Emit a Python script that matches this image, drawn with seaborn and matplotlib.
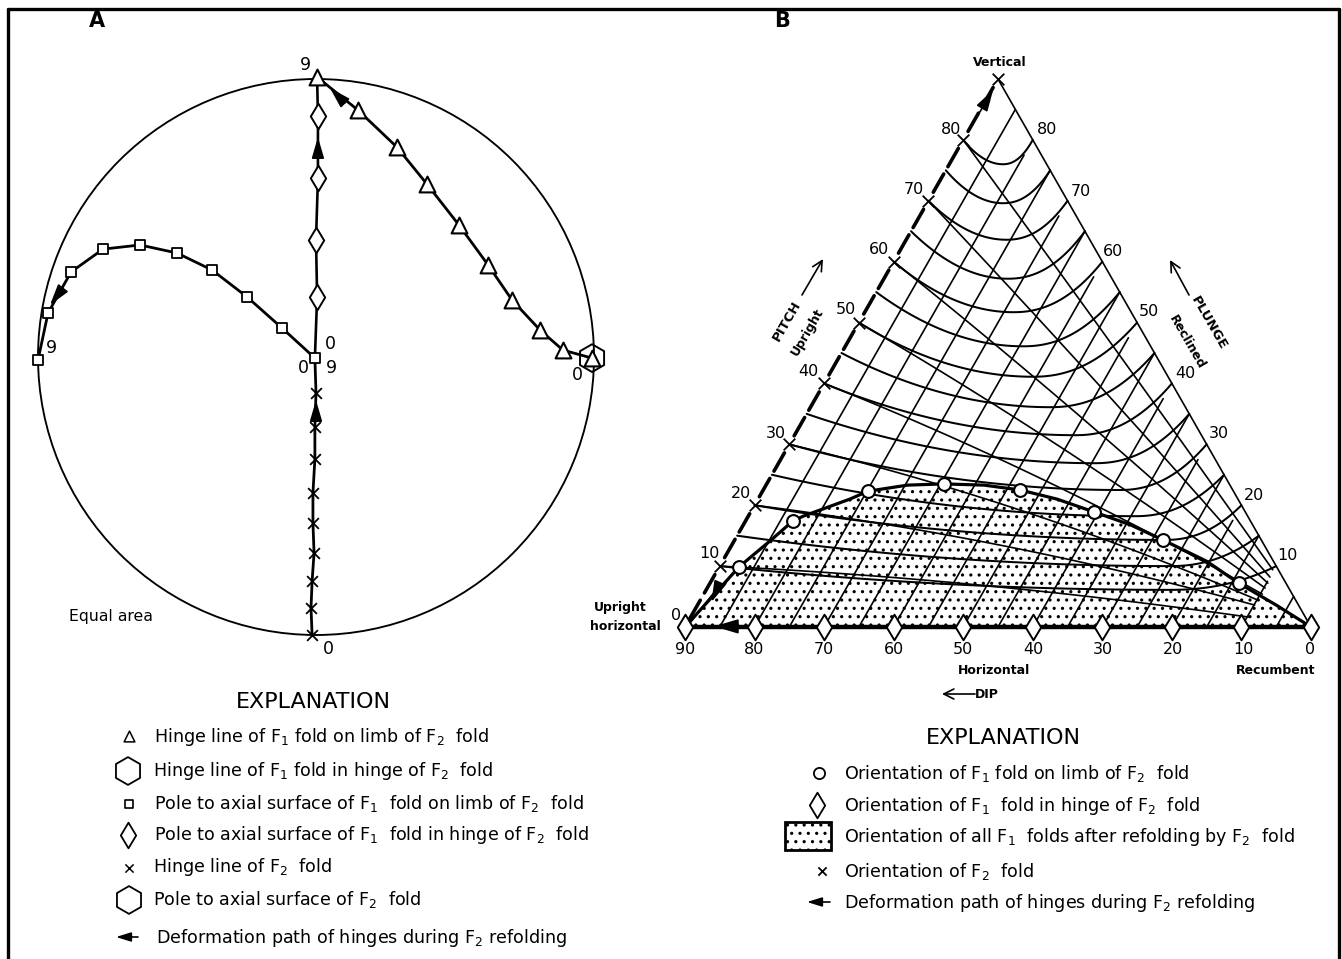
import numpy as np
import pandas as pd
import matplotlib
matplotlib.use("Agg")
import matplotlib.pyplot as plt
from matplotlib.patches import Circle, Rectangle
import seaborn as sns

sns.set_theme(style="white")
plt.rcParams["font.family"] = ["DejaVu Sans"]
plt.rcParams["mathtext.default"] = "regular"
plt.rcParams["hatch.linewidth"] = 1.1

# ---------- Panel A: equal-area net (unit circle coordinates) ----------
tri_x = [0.004, 0.151, 0.291, 0.399, 0.514, 0.619, 0.705, 0.806, 0.888, 0.993]
tri_y = [1.007, 0.888, 0.755, 0.622, 0.475, 0.331, 0.205, 0.097, 0.025, -0.004]
sq_x = [-1.0, -0.964, -0.881, -0.766, -0.633, -0.5, -0.374, -0.248, -0.122, -0.004]
sq_y = [-0.011, 0.158, 0.306, 0.388, 0.403, 0.374, 0.313, 0.216, 0.104, -0.004]
dia_x = [0.007, 0.007, 0.0, 0.004]
dia_y = [0.867, 0.644, 0.421, 0.216]
xm_x = [0.0, -0.004, -0.004, -0.011, -0.011, -0.007, -0.014, -0.018, -0.014]
xm_y = [-0.129, -0.252, -0.367, -0.489, -0.597, -0.705, -0.806, -0.903, -1.0]
vert_x = [0.004, 0.007, 0.007, 0.0, 0.004, -0.004]
vert_y = [1.0, 0.867, 0.644, 0.421, 0.216, -0.004]
hinge_x = [0.993]
hinge_y = [-0.004]

# ---------- Panel B: ternary fold diagram (dip, level) ----------
dip_ticks = [90, 80, 70, 60, 50, 40, 30, 20, 10, 0]
pitch_ticks = [10, 20, 30, 40, 50, 60, 70, 80, 90]
plunge_ticks = [10, 20, 30, 40, 50, 60, 70, 80]
dip_lines = [85, 80, 75, 70, 65, 60, 55, 50, 45, 40, 35, 30, 25, 20, 15, 10, 5]
u_levels = [80, 75, 70, 65, 60, 55, 50, 45, 40, 35, 30, 25, 20, 15, 10]
u_low_dip = [44.3, 44.3, 43.8, 43.6, 42.8, 41.4, 40.0, 37.5, 33.9, 31.1, 27.5, 25.3, 21.0, 20.3, 20.3]
u_low_lev = [76.0, 69.6, 63.6, 57.2, 51.7, 46.1, 41.1, 36.1, 31.5, 26.9, 22.5, 18.2, 14.3, 10.0, 6.1]
fan_levels = [80, 70, 60, 50, 40, 30, 20, 10]
fan_end_dip = [5.5, 5.9, 6.2, 6.6, 7.0, 7.6, 8.1, 8.8]
fan_end_lev = [9.4, 8.2, 7.2, 6.4, 5.4, 4.4, 3.6, 1.6]
fan_bow = [0.3, 0.6, 0.9, 1.2, 1.5, 1.8, 1.5, 1.0]
limb_dip = [82.2, 74.5, 63.7, 52.8, 41.8, 31.2, 21.3, 10.4]
limb_lev = [9.9, 17.4, 22.3, 23.5, 22.5, 18.9, 14.3, 7.2]
bound_dip = [90, 82.2, 77.6, 74.5, 73, 66.3, 63.7, 58, 52.8, 47, 41.8, 36.5, 31.2, 26, 21.3, 15, 10.4, 5, 0]
bound_lev = [0, 9.9, 14.3, 17.4, 18.2, 21.0, 22.3, 23.3, 23.5, 23.3, 22.5, 21.0, 18.9, 16.8, 14.3, 10.8, 7.2, 3.6, 0]

expl_a = ["Hinge line of F$_{1}$ fold on limb of F$_{2}$  fold",
          "Hinge line of F$_{1}$ fold in hinge of F$_{2}$  fold",
          "Pole to axial surface of F$_{1}$  fold on limb of F$_{2}$  fold",
          "Pole to axial surface of F$_{1}$  fold in hinge of F$_{2}$  fold",
          "Hinge line of F$_{2}$  fold",
          "Pole to axial surface of F$_{2}$  fold",
          "Deformation path of hinges during F$_{2}$ refolding"]
expl_b = ["Orientation of F$_{1}$ fold on limb of F$_{2}$  fold",
          "Orientation of F$_{1}$  fold in hinge of F$_{2}$  fold",
          "Orientation of all F$_{1}$  folds after refolding by F$_{2}$  fold",
          "Orientation of F$_{2}$  fold",
          "Deformation path of hinges during F$_{2}$ refolding"]

W, H = 1342, 959
fig = plt.figure(figsize=(W / 100, H / 100), dpi=100, facecolor="white")


def full_axes(xlim, ylim):
    ax = fig.add_axes([0, 0, 1, 1], facecolor="none")
    ax.set_xlim(*xlim)
    ax.set_ylim(*ylim)
    ax.axis("off")
    return ax


axT = full_axes((0, W), (H, 0))
axB = full_axes((1311 / 6.956, (1311 - W) / 6.956), ((627 - H) / 6.089, 627 / 6.089))
axA = full_axes((-316 / 278, (W - 316) / 278), ((357 - H) / 278, 357 / 278))


def line(ax, x, y, lw=1.3, **kw):
    sns.lineplot(x=x, y=y, ax=ax, sort=False, estimator=None, color="black",
                 linewidth=lw, legend=False, **kw)


def pts(ax, x, y, marker, s, lw=1.4, fc="white", z=5):
    if marker == "x":
        sns.scatterplot(x=x, y=y, ax=ax, marker="x", s=s, color="black",
                        linewidth=lw, legend=False, zorder=z)
    else:
        sns.scatterplot(x=x, y=y, ax=ax, marker=marker, s=s, facecolor=fc,
                        edgecolor="black", linewidth=lw, legend=False, zorder=z)


def arrow(ax, tail, tip, style="-|>,head_length=1.3,head_width=0.38", ms=10, lw=1.2, fill=True):
    ax.annotate("", xy=tip, xytext=tail,
                arrowprops=dict(arrowstyle=style, mutation_scale=ms, lw=lw,
                                color="black", shrinkA=0, shrinkB=0,
                                fc="black" if fill else "none"), zorder=6)


# ---------- Frame ----------
line(axT, [8, 8], [959, 9], lw=2.4)
line(axT, [8, 1339], [9, 9], lw=2.4)
line(axT, [1339, 1339], [9, 959], lw=2.4)

# ---------- Panel A ----------
axA.add_patch(Circle((0, 0), 1.0, fill=False, ec="black", lw=1.35))
line(axA, tri_x, tri_y, lw=2.0)
line(axA, sq_x, sq_y, lw=2.0)
line(axA, vert_x, vert_y, lw=1.9)
line(axA, xm_x, xm_y, lw=2.0)
line(axA, [xm_x[0], vert_x[-1]], [xm_y[0], vert_y[-1]], lw=2.0)
pts(axA, dia_x, dia_y, "d", 170, lw=1.4)
pts(axA, sq_x, sq_y, "s", 45, lw=1.3)
pts(axA, xm_x, xm_y, "x", 60, lw=1.3)
pts(axA, hinge_x, hinge_y, "h", 400, lw=1.4, fc="none", z=4)
pts(axA, tri_x, tri_y, "^", 130, lw=1.5)
arrow(axA, (0.104, 0.914), (0.05, 0.968))
arrow(axA, (0.007, 0.723), (0.007, 0.791))
arrow(axA, (-0.91, 0.248), (-0.957, 0.187))
arrow(axA, (0.0, -0.209), (0.0, -0.155))

# ---------- Panel B ----------
axB.fill(bound_dip, bound_lev, facecolor="none", edgecolor="black", linewidth=0,
         hatch="..", zorder=0)

# ascending dip lines
rows = []
for i, d in enumerate(dip_lines):
    top = d if d % 10 else d - 2.5
    rows += [(f"d{i}", d, 0.0), (f"d{i}", d - top / 2, top)]
# slightly bowed fan lines toward the recumbent corner
for i, L in enumerate(fan_levels):
    d0, d1 = 90 - L / 2, fan_end_dip[i]
    for u in np.linspace(0, 1, 25):
        rows.append((f"f{i}", d0 + (d1 - d0) * u,
                     L + (fan_end_lev[i] - L) * u + 4 * u * (1 - u) * fan_bow[i]))
thin = pd.DataFrame(rows, columns=["curve", "dip", "level"])
sns.lineplot(data=thin, x="dip", y="level", units="curve", estimator=None, sort=False,
             color="black", linewidth=1.2, ax=axB, legend=False)

# U-shaped contours from pitch edge to plunge edge
rows = []
for i, L in enumerate(u_levels):
    left, right = 90 - L / 2, L / 2
    for t in np.linspace(1, 0, 40):
        rows.append((i, u_low_dip[i] + (left - u_low_dip[i]) * t,
                     u_low_lev[i] + (L - u_low_lev[i]) * t ** 2.0))
    for t in np.linspace(0, 1, 40)[1:]:
        rows.append((i, u_low_dip[i] + (right - u_low_dip[i]) * t,
                     u_low_lev[i] + (L - u_low_lev[i]) * t ** 2.2))
curves = pd.DataFrame(rows, columns=["curve", "dip", "level"])
sns.lineplot(data=curves, x="dip", y="level", units="curve", estimator=None, sort=False,
             color="black", linewidth=1.45, ax=axB, legend=False)

line(axB, bound_dip, bound_lev, lw=2.3)
line(axB, [45, 0], [90, 0], lw=1.2)          # plunge edge
line(axB, [90, 0], [0, 0], lw=3.2)           # dip edge
line(axB, [85.3, 89.2], [6.4, 0.8], lw=1.2)
# dashed pitch edge, broken around the x marks
for d in range(0, 90, 10):
    lo = d + 1.4 if d else 0.0
    line(axB, [90 - lo / 2, 90 - (d + 4.4) / 2], [lo, d + 4.4], lw=2.6)
    line(axB, [90 - (d + 5.6) / 2, 90 - (d + 8.6) / 2], [d + 5.6, d + 8.6], lw=2.6)
pts(axB, limb_dip, limb_lev, "o", 85, lw=1.5)
pts(axB, dip_ticks, [0] * len(dip_ticks), "d", 170, lw=1.4)
pts(axB, [90 - L / 2 for L in pitch_ticks], pitch_ticks, "x", 70, lw=1.3)
arrow(axB, (47.6, 84.6), (45.7, 88.2))
arrow(axB, (85.3, 6.4), (86.2, 4.1))
arrow(axB, (83.2, 0.1), (85.8, 0.1), style="-|>,head_length=1.5,head_width=0.45")

# ---------- Text ----------
FS = 12.6


def txt(x, y, s, fs=FS, ha="center", rot=0, **kw):
    axT.text(x, y, s, fontsize=fs, ha=ha, va="center", rotation=rot,
             rotation_mode="anchor", color="black", **kw)


txt(97, 21, "A", fs=15, fontweight="bold")
txt(782, 21, "B", fs=15, fontweight="bold")
for x, y, s in zip([305, 51, 330, 303, 331, 577, 328], [65, 348, 344, 368, 368, 375, 649],
                   ["9", "9", "0", "0", "9", "0", "0"]):
    txt(x, y, s, fs=12.5)
txt(111, 617, "Equal area", fs=11.3)
txt(313, 702, "EXPLANATION", fs=16)
txt(1003, 738, "EXPLANATION", fs=16)

rows_a = [737, 771, 803, 835, 867, 900, 938]
starts_a = [154, 153, 154, 154, 153, 153, 156]
for x, y, s in zip(starts_a, rows_a, expl_a):
    txt(x, y, s, ha="left")
rows_b = [773, 806, 837, 871, 903]
for y, s in zip(rows_b, expl_b):
    txt(844, y, s, ha="left")

pts(axT, [129], [736], "^", 60, lw=1.1)
pts(axT, [128], [771], "h", 400, lw=1.3, fc="none")
pts(axT, [129], [804], "s", 28, lw=1.2)
pts(axT, [128], [835], "d", 170, lw=1.3)
pts(axT, [129], [868], "x", 35, lw=1.1)
pts(axT, [129], [900], "h", 400, lw=1.3, fc="none")
arrow(axT, (138, 937), (116, 937), style="-|>,head_length=0.9,head_width=0.28", lw=1.2)

pts(axT, [819], [773], "o", 65, lw=1.3)
pts(axT, [817], [805], "d", 170, lw=1.3)
axT.add_patch(Rectangle((785, 822), 46, 28, facecolor="none", edgecolor="black",
                        linewidth=0, hatch="..", zorder=1))
axT.add_patch(Rectangle((785, 822), 46, 28, fill=False, edgecolor="black", linewidth=2.0))
pts(axT, [822], [871], "x", 35, lw=1.3)
arrow(axT, (830, 902), (807, 902), style="-|>,head_length=0.9,head_width=0.28", lw=1.2)

txt(1000, 63, "Vertical", fs=9, fontweight="bold")
for L, x, y in zip(pitch_ticks[:-1], [709, 741, 776, 808, 846, 879, 914, 951],
                   [553, 493, 433, 372, 310, 250, 190, 129]):
    txt(x, y, str(L), fs=11.5)
txt(676, 615, "0", fs=11.5)
for L, x, y in zip(plunge_ticks, [1287, 1254, 1219, 1185, 1149, 1113, 1081, 1047],
                   [556, 496, 434, 374, 312, 252, 191, 130]):
    txt(x, y, str(L), fs=11.5)
for d, x in zip(dip_ticks, [685, 754, 824, 894, 963, 1033, 1103, 1173, 1243, 1310]):
    txt(x, 650, str(d), fs=11.5)
txt(994, 670, "Horizontal", fs=9, fontweight="bold")
txt(1276, 670, "Recumbent", fs=9, fontweight="bold")
txt(620, 607, "Upright", fs=9, fontweight="bold")
txt(625, 627, "horizontal", fs=9, fontweight="bold")
txt(987, 694, "DIP", fs=9, fontweight="bold")
txt(787, 321, "PITCH", fs=9.5, rot=60, fontweight="bold")
txt(807, 332, "Upright", fs=9, rot=60, fontweight="bold")
txt(1209, 323, "PLUNGE", fs=9.5, rot=-60, fontweight="bold")
txt(1187, 342, "Reclined", fs=9, rot=-60, fontweight="bold")
OPEN = "->,head_length=0.6,head_width=0.3"
arrow(axT, (975, 694), (942, 694), style=OPEN, ms=12, lw=1.2, fill=False)
arrow(axT, (802, 295), (823, 259), style=OPEN, ms=12, lw=1.2, fill=False)
arrow(axT, (1189, 295), (1170, 260), style=OPEN, ms=12, lw=1.2, fill=False)

fig.savefig("out.png", dpi=100)
